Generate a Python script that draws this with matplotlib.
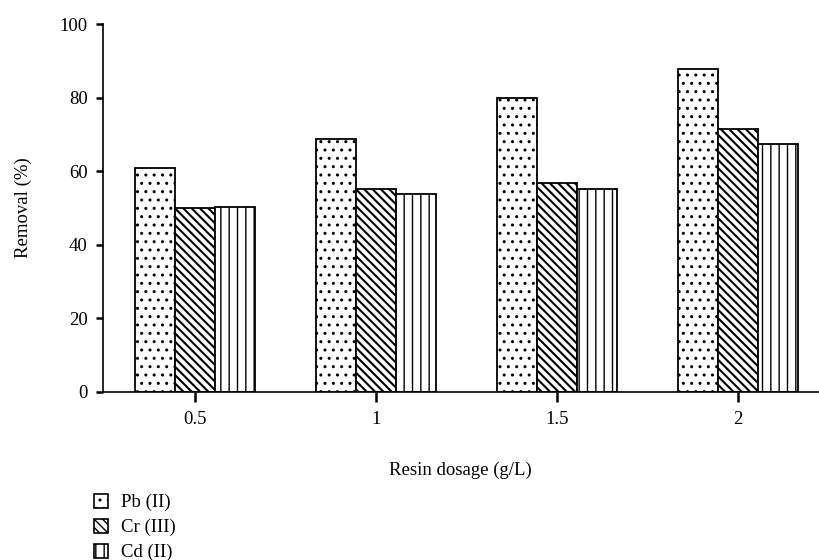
import numpy as np
import matplotlib
matplotlib.use("Agg")
import matplotlib.pyplot as plt
from matplotlib.patches import Patch

plt.rcParams['font.family'] = ['Liberation Serif', 'DejaVu Serif']
plt.rcParams['font.size'] = 13.5
plt.rcParams['hatch.linewidth'] = 1.0

dosage = ['0.5', '1', '1.5', '2']
metals = ['Pb (II)', 'Cr (III)', 'Cd (II)']
pb = [61.0, 68.7, 79.8, 87.8]
cr = [50.0, 55.3, 56.7, 71.6]
cd = [50.3, 53.8, 55.2, 67.5]
hatches = ['..', '\\\\\\\\', '||']
hatch_lw = [1.0, 1.5, 1.0]

fig = plt.figure(figsize=(8.19, 5.6), dpi=100)
ax = fig.add_axes([0.1258, 0.30, 0.8730, 0.657])

x = np.arange(len(dosage))
w = 0.221
for k, (vals, h) in enumerate(zip([pb, cr, cd], hatches)):
    bars = ax.bar(x + (k - 1) * w, vals, w, facecolor='white', edgecolor='black',
                  linewidth=1.3, hatch=h)
    for b in bars:
        if hasattr(b, 'set_hatch_linewidth'):
            b.set_hatch_linewidth(hatch_lw[k])

ax.set_xlim(-0.508, -0.508 + 715 / 181)
ax.set_ylim(0, 100)
ax.set_xticks(x)
ax.set_xticklabels(dosage)
ax.set_yticks([0, 20, 40, 60, 80, 100])

for s in ['top', 'right']:
    ax.spines[s].set_visible(False)
for s in ['left', 'bottom']:
    ax.spines[s].set_linewidth(1.2)

ax.tick_params(axis='y', direction='out', length=5, width=1.8, pad=6)
ax.tick_params(axis='x', direction='out', length=7, width=1.8, pad=7)

ax.set_ylabel('Removal (%)')
ax.yaxis.set_label_coords(-0.099, 0.5)
ax.set_xlabel('Resin dosage (g/L)')
ax.xaxis.set_label_coords(0.5, -0.19)

handles = []
for k in range(3):
    p = Patch(facecolor='white', edgecolor='black', hatch=hatches[k], linewidth=1.2)
    if hasattr(p, 'set_hatch_linewidth'):
        p.set_hatch_linewidth(hatch_lw[k])
    handles.append(p)
fig.legend(handles, metals, loc='upper left', bbox_to_anchor=(0.115, 0.118),
           frameon=False, borderpad=0, borderaxespad=0, handlelength=0.75,
           handleheight=0.75, handletextpad=0.7, labelspacing=0.4)

fig.savefig('out.png', dpi=100)
